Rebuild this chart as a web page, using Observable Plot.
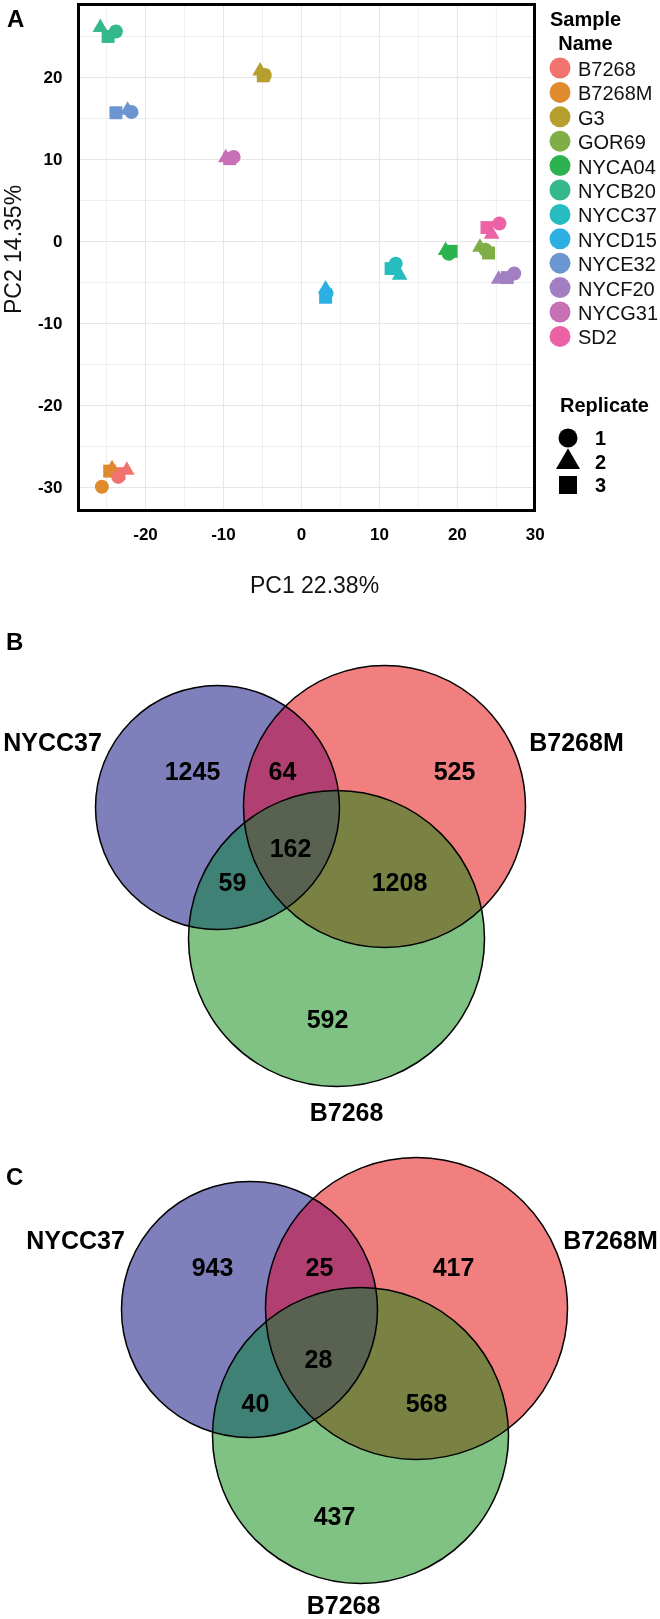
<!DOCTYPE html>
<html>
<head>
<meta charset="utf-8">
<script src="https://cdn.jsdelivr.net/npm/d3@7"></script>
<script src="https://cdn.jsdelivr.net/npm/@observablehq/plot@0.6"></script>
<style>
  html, body { margin: 0; padding: 0; background: #fff; }
  body { width: 660px; height: 1619px; overflow: hidden; font-family: "Liberation Sans", Arial, Helvetica, sans-serif; }
  #page { position: relative; width: 660px; height: 1619px; background: #fff; }
  .slot { position: absolute; left: 0; }
  .letter { position: absolute; font-weight: bold; font-size: 24px; line-height: 24px; color: #000; }
  #plotA g[aria-label="x-axis tick label"], #plotA g[aria-label="y-axis tick label"] { font-weight: bold; font-size: 17px; }
</style>
</head>
<body>
<div id="page"></div>
<script>
const FONT = '"Liberation Sans", Arial, Helvetica, sans-serif';

// ---------- Panel A : PCA ----------
const samples = ["B7268","B7268M","G3","GOR69","NYCA04","NYCB20","NYCC37","NYCD15","NYCE32","NYCF20","NYCG31","SD2"];
const sampleColors = ["#f0736f","#df8a2d","#b79f2f","#7fae46","#2cb34f","#35b98a","#27bdc0","#2cb0e4","#6c96d1","#a17fc1","#c870b5","#ec62a6"];
const replicates = [1, 2, 3];
const replicateSymbols = ["circle", "triangle", "square"];
const pc1Rep1 = [-23.5, -25.6, -4.7, 23.6, 18.9, -23.8, 12.1, 3.2, -21.8, 27.3, -8.7, 25.4];
const pc2Rep1 = [-28.7, -29.9, 20.3, -1.0, -1.5, 25.6, -2.7, -6.3, 15.8, -3.9, 10.3, 2.2];
const pc1Rep2 = [-22.4, -24.3, -5.3, 22.9, 18.5, -25.8, 12.6, 3.1, -22.3, 25.3, -9.7, 24.4];
const pc2Rep2 = [-27.9, -27.7, 20.8, -0.7, -1.1, 26.1, -4.1, -5.8, 16.0, -4.6, 10.2, 0.9];
const pc1Rep3 = [-23.4, -24.6, -4.9, 24.0, 19.2, -24.8, 11.5, 3.1, -23.8, 26.4, -9.2, 23.8];
const pc2Rep3 = [-28.3, -28.0, 20.2, -1.4, -1.2, 25.0, -3.3, -6.8, 15.7, -4.4, 10.1, 1.7];
const xTicks = [-20, -10, 0, 10, 20, 30];
const yTicks = [-30, -20, -10, 0, 10, 20];
const xMinor = [-25, -15, -5, 5, 15, 25];
const yMinor = [-25, -15, -5, 5, 15, 25];
const xTitle = "PC1 22.38%";
const yTitle = "PC2 14.35%";
const legendTitleColor = ["Sample", "Name"];
const legendTitleShape = "Replicate";

// ---------- Panels B and C : Venn ----------
const vennSets = ["NYCC37", "B7268M", "B7268"];
const vennColors = ["#00007a", "#e60000", "#008608"];
const vennRegions = ["NYCC37 only", "NYCC37 & B7268M", "B7268M only", "all three", "NYCC37 & B7268", "B7268M & B7268", "B7268 only"];
const vennCountsB = [1245, 64, 525, 162, 59, 1208, 592];
const vennCountsC = [943, 25, 417, 28, 40, 568, 437];
// diagram layout (diagram units)
const vennB_cx = [217, 384, 336], vennB_cy = [187, 186, 318], vennB_r = [122, 141, 148];
const vennB_setX = [52, 576, 346], vennB_setY = [122, 122, 492];
const vennB_regX = [192, 282, 454, 290, 232, 399, 327], vennB_regY = [151, 151, 151, 228, 262, 262, 399];
const vennC_cx = [249, 416, 360], vennC_cy = [179, 178, 305], vennC_r = [128, 151, 148];
const vennC_setX = [75, 610, 343], vennC_setY = [110, 110, 475];
const vennC_regX = [212, 319, 453, 318, 255, 426, 334], vennC_regY = [137, 137, 137, 229, 273, 273, 386];

const page = document.getElementById("page");

// ---------- build Panel A ----------
const pc1 = [pc1Rep1, pc1Rep2, pc1Rep3], pc2 = [pc2Rep1, pc2Rep2, pc2Rep3];
function rowsFor(rep) {
  const k = rep - 1;
  const order = samples.map((s, i) => i).reverse();
  return order.map(i => ({sample: samples[i], rep, pc1: pc1[k][i], pc2: pc2[k][i]}));
}

const plotA = Plot.plot({
  width: 545, height: 620,
  marginLeft: 78, marginRight: 11, marginTop: 4, marginBottom: 110,
  style: {fontFamily: FONT, background: "transparent", overflow: "visible", color: "#000"},
  x: {domain: [-28.6, 29.9], label: null},
  y: {domain: [-32.8, 28.9], label: null},
  color: {domain: samples, range: sampleColors},
  symbol: {domain: replicates, range: replicateSymbols},
  marks: [
    Plot.gridX(xMinor, {stroke: "#efefef", strokeOpacity: 1}),
    Plot.gridY(yMinor, {stroke: "#efefef", strokeOpacity: 1}),
    Plot.gridX(xTicks, {stroke: "#e6e6e6", strokeOpacity: 1}),
    Plot.gridY(yTicks, {stroke: "#e6e6e6", strokeOpacity: 1}),
    Plot.axisX(xTicks, {tickSize: 0, tickPadding: 17, fontSize: 17, fontWeight: "bold", tickFormat: d => String(d), label: null}),
    Plot.axisY(yTicks, {tickSize: 0, tickPadding: 16, fontSize: 17, fontWeight: "bold", tickFormat: d => String(d), label: null}),
    Plot.dot(rowsFor(3), {x: "pc1", y: "pc2", fill: "sample", symbol: "rep", r: 7.3}),
    Plot.dot(rowsFor(2), {x: "pc1", y: "pc2", fill: "sample", symbol: "rep", r: 5.8}),
    Plot.dot(rowsFor(1), {x: "pc1", y: "pc2", fill: "sample", symbol: "rep", r: 7}),
    Plot.frame({stroke: "#000", strokeWidth: 3}),
    Plot.text([xTitle], {text: d => d, frameAnchor: "bottom", dx: 8, dy: 75, fontSize: 23, textAnchor: "middle", lineAnchor: "middle", fill: "#111"}),
    Plot.text([yTitle], {text: d => d, frameAnchor: "left", dx: -65, dy: -8, rotate: -90, fontSize: 23, textAnchor: "middle", lineAnchor: "middle", fill: "#111"})
  ]
});
const slotA = document.createElement("div");
slotA.className = "slot"; slotA.id = "plotA"; slotA.style.top = "0px";
slotA.appendChild(plotA);
page.appendChild(slotA);

// legends for panel A
const leg = d3.create("svg")
  .attr("width", 660).attr("height", 620)
  .style("position", "absolute").style("left", "0px").style("top", "0px")
  .style("font-family", FONT).style("pointer-events", "none");
leg.append("text").attr("x", 585.5).attr("y", 26).attr("text-anchor", "middle")
  .attr("font-weight", "bold").attr("font-size", 20).text(legendTitleColor[0]);
leg.append("text").attr("x", 585.5).attr("y", 50).attr("text-anchor", "middle")
  .attr("font-weight", "bold").attr("font-size", 20).text(legendTitleColor[1]);
samples.forEach((s, i) => {
  const cy = 68 + 24.4 * i;
  leg.append("circle").attr("cx", 560).attr("cy", cy).attr("r", 10.5).attr("fill", sampleColors[i]);
  leg.append("text").attr("x", 578).attr("y", cy + 8).attr("font-size", 20).attr("fill", "#111").text(s);
});
leg.append("text").attr("x", 560).attr("y", 412).attr("font-weight", "bold").attr("font-size", 20).text(legendTitleShape);
const symMap = {circle: d3.symbolCircle, triangle: d3.symbolTriangle, square: d3.symbolSquare};
const symSize = {circle: 283, triangle: 250, square: 324};
const symY = [438, 462, 485];
replicates.forEach((rep, i) => {
  const name = replicateSymbols[i];
  leg.append("path")
    .attr("d", d3.symbol(symMap[name], symSize[name])())
    .attr("transform", `translate(568,${symY[i]})`)
    .attr("fill", "#000");
  leg.append("text").attr("x", 595).attr("y", symY[i] + 7)
    .attr("font-weight", "bold").attr("font-size", 20).text(String(rep));
});
page.appendChild(leg.node());

// ---------- build Venn panels ----------
function vennPlot(h, cx, cy, r, setX, setY, regX, regY, counts) {
  const circles = vennSets.map((s, i) => ({set: s, cx: cx[i], cy: cy[i], r: r[i]}));
  const regions = counts.map((c, i) => ({region: vennRegions[i], count: c, x: regX[i], y: regY[i]}));
  const labels = vennSets.map((s, i) => ({set: s, x: setX[i], y: setY[i]}));
  return Plot.plot({
    width: 660, height: h, margin: 0,
    style: {fontFamily: FONT, background: "transparent", overflow: "visible"},
    x: {domain: [0, 660], range: [0, 660], axis: null},
    y: {domain: [0, h], range: [0, h], axis: null},
    r: {type: "linear", domain: [0, 200], range: [0, 200]},
    color: {domain: vennSets, range: vennColors},
    marks: [
      Plot.dot(circles, {x: "cx", y: "cy", r: "r", fill: "set", fillOpacity: 0.5, sort: null}),
      // lift the blue tone where the first set overlaps the others
      Plot.dot(circles.slice(0, 1), {x: "cx", y: "cy", r: "r", fill: "#0000bc", fillOpacity: 0.22, mixBlendMode: "lighten"}),
      Plot.dot(circles, {x: "cx", y: "cy", r: "r", fill: "none", stroke: "#000", strokeWidth: 1.5, sort: null}),
      Plot.text(regions, {x: "x", y: "y", text: d => String(d.count), fontSize: 25, fontWeight: "bold", fill: "#000", lineAnchor: "middle"}),
      Plot.text(labels, {x: "x", y: "y", text: "set", fontSize: 25, fontWeight: "bold", fill: "#000", lineAnchor: "middle"})
    ]
  });
}

const plotB = vennPlot(510, vennB_cx, vennB_cy, vennB_r, vennB_setX, vennB_setY, vennB_regX, vennB_regY, vennCountsB);
const slotB = document.createElement("div");
slotB.className = "slot"; slotB.style.top = "620px";
slotB.appendChild(plotB);
page.appendChild(slotB);

const plotC = vennPlot(489, vennC_cx, vennC_cy, vennC_r, vennC_setX, vennC_setY, vennC_regX, vennC_regY, vennCountsC);
const slotC = document.createElement("div");
slotC.className = "slot"; slotC.style.top = "1130px";
slotC.appendChild(plotC);
page.appendChild(slotC);

// panel letters
[["A", 7, 7], ["B", 6, 630], ["C", 6, 1165]].forEach(([t, x, y]) => {
  const d = document.createElement("div");
  d.className = "letter";
  d.style.left = x + "px"; d.style.top = y + "px";
  d.textContent = t;
  page.appendChild(d);
});
</script>
</body>
</html>
